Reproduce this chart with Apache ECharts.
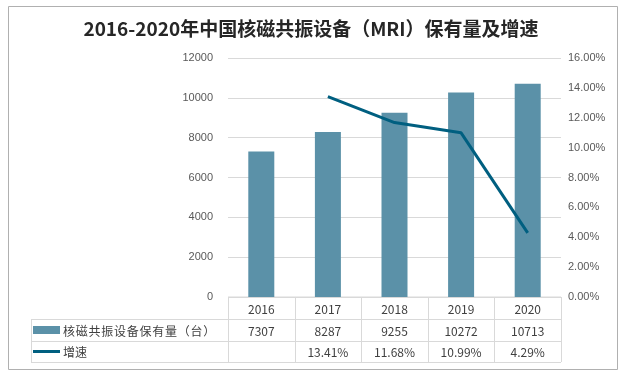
<!DOCTYPE html>
<html>
<head>
<meta charset="utf-8">
<script src="https://cdn.jsdelivr.net/npm/echarts@6/dist/echarts.min.js"></script>
<style>
  html, body { margin: 0; padding: 0; background: #fff; }
  #chart { width: 622px; height: 376px; }
</style>
</head>
<body>
<div id="chart"></div>
<script>
// 数据
const years = ["2016", "2017", "2018", "2019", "2020"];
const units = [7307, 8287, 9255, 10272, 10713];          // 保有量（台）
const growth = [null, 0.1341, 0.1168, 0.1099, 0.0429];   // 增速
const barName = "核磁共振设备保有量（台）";
const lineName = "增速";

const W = 622, H = 376;
const gridLeft = 228, gridRight = 561, gridTop = 58, gridBottom = 297;
const rowH = [297, 319, 341, 362];   // 表格行线
const tableLeft = 31;
const lineColor = "#d9d9d9";
const textColor = "#404040";
const barColor = "#5b91a8";
const growthColor = "#005f80";

let chart = echarts.init(document.getElementById("chart"));

// 底部数据表
function buildTable() {
    let g = [];
    let colW = (gridRight - gridLeft) / years.length;
    // 横线
    g.push({ type: "line", shape: { x1: gridLeft, y1: rowH[0], x2: gridRight, y2: rowH[0] }, style: { stroke: lineColor, lineWidth: 1 } });
    for (let i = 1; i < rowH.length; i++) {
        g.push({ type: "line", shape: { x1: tableLeft, y1: rowH[i] + 0.5, x2: gridRight, y2: rowH[i] + 0.5 }, style: { stroke: lineColor, lineWidth: 1 } });
    }
    // 竖线
    for (let i = 0; i <= years.length; i++) {
        let x = Math.round(gridLeft + i * colW) + 0.5;
        g.push({ type: "line", shape: { x1: x, y1: rowH[0], x2: x, y2: rowH[3] }, style: { stroke: lineColor, lineWidth: 1 } });
    }
    g.push({ type: "line", shape: { x1: tableLeft + 0.5, y1: rowH[1], x2: tableLeft + 0.5, y2: rowH[3] }, style: { stroke: lineColor, lineWidth: 1 } });

    // 单元格文字
    const font = "12px 'Noto Sans CJK SC', sans-serif";
    years.forEach((y, i) => {
        let cx = gridLeft + (i + 0.5) * colW;
        g.push({ type: "text", x: cx, y: (rowH[0] + rowH[1]) / 2 + 1, style: { text: y, font: font, fill: textColor, align: "center", verticalAlign: "middle" } });
        g.push({ type: "text", x: cx, y: (rowH[1] + rowH[2]) / 2 + 1, style: { text: String(units[i]), font: font, fill: textColor, align: "center", verticalAlign: "middle" } });
        if (growth[i] != null) {
            g.push({ type: "text", x: cx, y: (rowH[2] + rowH[3]) / 2 + 1, style: { text: (growth[i] * 100).toFixed(2) + "%", font: font, fill: textColor, align: "center", verticalAlign: "middle" } });
        }
    });

    // 图例
    let r1 = (rowH[1] + rowH[2]) / 2, r2 = (rowH[2] + rowH[3]) / 2;
    g.push({ type: "rect", shape: { x: 33, y: r1 - 4, width: 27, height: 8 }, style: { fill: barColor } });
    g.push({ type: "text", x: 63, y: r1 + 1, style: { text: barName.split("").join("\u200a"), font: font, fill: textColor, verticalAlign: "middle" } });
    g.push({ type: "line", shape: { x1: 33, y1: r2, x2: 60, y2: r2 }, style: { stroke: growthColor, lineWidth: 3 } });
    g.push({ type: "text", x: 63, y: r2 + 1, style: { text: lineName, font: font, fill: textColor, verticalAlign: "middle" } });

    // 外框
    g.push({ type: "rect", shape: { x: 8.5, y: 6.5, width: 609, height: 363 }, style: { fill: "none", stroke: "#b0b0b0", lineWidth: 1 } });
    return g;
}

let option = {
    backgroundColor: "#fff",
    animation: false,
    title: {
        text: "2016-2020年中国核磁共振设备（MRI）保有量及增速",
        left: "center",
        top: 14,
        textStyle: { fontSize: 19, fontWeight: "bold", color: "#262626", fontFamily: "'Noto Sans CJK SC', sans-serif" }
    },
    grid: { left: gridLeft, right: W - gridRight, top: gridTop, bottom: H - gridBottom, containLabel: false },
    xAxis: {
        type: "category",
        data: years,
        axisLine: { show: false },
        axisTick: { show: false },
        axisLabel: { show: false }
    },
    yAxis: [{
        type: "value",
        min: 0, max: 12000, interval: 2000,
        axisLine: { show: false },
        axisTick: { show: false },
        axisLabel: { color: "#595959", fontSize: 11, margin: 15, fontFamily: "'Liberation Sans', sans-serif",
            formatter: v => String(v) },
        splitLine: { lineStyle: { color: lineColor } }
    }, {
        type: "value",
        min: 0, max: 0.16, interval: 0.02,
        axisLine: { show: false },
        axisTick: { show: false },
        axisLabel: { color: "#595959", fontSize: 11, margin: 7, fontFamily: "'Liberation Sans', sans-serif",
            formatter: v => (v * 100).toFixed(2) + "%" },
        splitLine: { show: false }
    }],
    series: [{
        name: barName,
        type: "bar",
        data: units,
        barWidth: 26,
        itemStyle: { color: barColor }
    }, {
        name: lineName,
        type: "line",
        yAxisIndex: 1,
        data: growth,
        symbol: "none",
        lineStyle: { color: growthColor, width: 3 }
    }],
    graphic: buildTable()
};

chart.setOption(option);
</script>
</body>
</html>
